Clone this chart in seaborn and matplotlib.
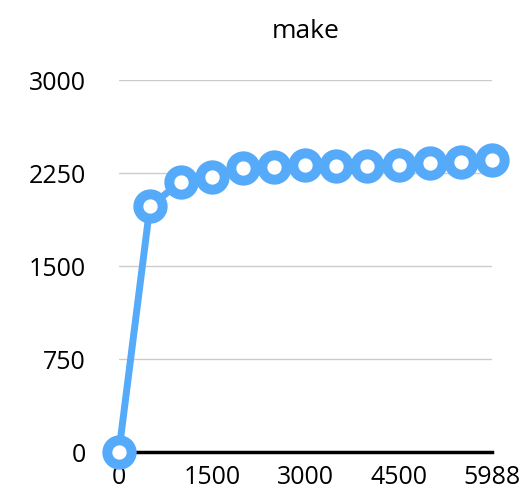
import matplotlib
matplotlib.use("Agg")
import matplotlib.pyplot as plt
import seaborn as sns
import pandas as pd

x_vals = [0, 499, 998, 1497, 1996, 2495, 2994, 3493, 3992, 4491, 4990, 5489, 5988]
y_vals = [0, 1984, 2177, 2218, 2290, 2298, 2315, 2306, 2306, 2315, 2331, 2339, 2355]
x_ticks = [0, 1500, 3000, 4500, 5988]
y_ticks = [0, 750, 1500, 2250, 3000]
title = "make"

sns.set_theme(style="white")
plt.rcParams['font.family'] = ['Open Sans', 'DejaVu Sans']

df = pd.DataFrame({"x": x_vals, "y": y_vals})

fig = plt.figure(figsize=(5.26, 4.92), dpi=100)
ax = fig.add_axes([0.226, 0.0813, 0.709, 0.756])

for t in y_ticks[1:]:
    ax.axhline(t, color="#cccccc", lw=1, zorder=0)

sns.lineplot(data=df, x="x", y="y", ax=ax, color="#55aaf9", lw=5,
             marker="o", markersize=17.5, markeredgewidth=7.2,
             markerfacecolor="white", markeredgecolor="#55aaf9",
             clip_on=False, zorder=3)

ax.set_xlim(0, 5988)
ax.set_ylim(0, 3000)
ax.set_xticks(x_ticks)
ax.set_yticks(y_ticks)
ax.set_xticklabels([str(v) for v in x_ticks], fontsize=18, color="black")
ax.set_yticklabels([str(v) for v in y_ticks], fontsize=18, color="black")
ax.tick_params(axis="both", length=0)
ax.tick_params(axis="y", pad=24)
ax.tick_params(axis="x", pad=9)
for s in ["top", "right", "left"]:
    ax.spines[s].set_visible(False)
ax.spines["bottom"].set_color("black")
ax.spines["bottom"].set_linewidth(2.5)
ax.spines["bottom"].set_zorder(1)
ax.set_xlabel("")
ax.set_ylabel("")
ax.set_title(title, fontsize=19, pad=30, color="black")

fig.savefig("out.png", dpi=100)
